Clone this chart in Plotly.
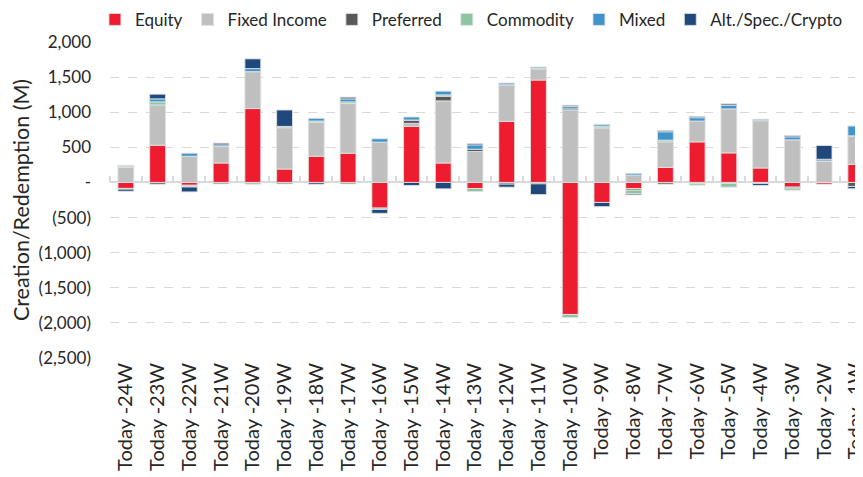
import plotly.graph_objects as go

categories = ["Today -24W", "Today -23W", "Today -22W", "Today -21W", "Today -20W", "Today -19W",
              "Today -18W", "Today -17W", "Today -16W", "Today -15W", "Today -14W", "Today -13W",
              "Today -12W", "Today -11W", "Today -10W", "Today -9W", "Today -8W", "Today -7W",
              "Today -6W", "Today -5W", "Today -4W", "Today -3W", "Today -2W", "Today -1W"]

equity = [-85, 530, -40, 277, 1052, 191, 373, 416, -365, 798, 277, -86, 870, 1458, -1880, -285, -86, 215, 578, 421, 206, -67, -24, 258]
fixed_income = [215, 574, 373, 234, 526, 588, 483, 707, 574, 43, 884, 440, 521, 158, 1028, 779, 105, 363, 296, 626, 674, 607, 306, 406]
preferred = [-10, -25, -10, -20, 0, -20, 0, -20, 0, 48, 67, 33, -24, -20, 19, 0, -24, -24, -14, -14, 0, -14, 0, -57]
commodity = [15, 43, -15, 0, -25, 19, 19, 24, -20, 0, 19, -43, 0, 14, -45, 24, -48, 24, -24, -53, -14, -29, 0, 0]
mixed = [12, 43, 43, 24, 43, 0, 38, 43, 48, 43, 53, 62, 24, 14, 33, 24, 24, 120, 48, 53, 19, 43, 24, 139]
alt = [-30, 67, -70, 24, 139, 234, -25, 24, -55, -43, -91, 19, -43, -153, 19, -60, -19, 19, 19, 19, -29, 19, 196, -33]

series = [
    ("Equity", equity, "#ED1C2E"),
    ("Fixed Income", fixed_income, "#BFBFBF"),
    ("Preferred", preferred, "#595959"),
    ("Commodity", commodity, "#8CC5A0"),
    ("Mixed", mixed, "#3E95CD"),
    ("Alt./Spec./Crypto", alt, "#1F497D"),
]

y_ticks = [2000, 1500, 1000, 500, 0, -500, -1000, -1500, -2000, -2500]
y_ticktext = ["2,000", "1,500", "1,000", "500", "-", "(500)", "(1,000)", "(1,500)", "(2,000)", "(2,500)"]

FONT = "Lato"
TXT = "#262626"
xpos = list(range(len(categories)))

fig = go.Figure()
for name, vals, color in series:
    fig.add_trace(go.Bar(
        x=xpos, y=vals, name=name,
        marker=dict(color=color, line=dict(color="rgba(225,225,225,0.9)", width=1)),
    ))

# helper invisible trace so the boundary-tick axis on the zero line is drawn
fig.add_trace(go.Scatter(x=[-0.5], y=[0], xaxis="x2", mode="markers",
                         marker=dict(opacity=0), showlegend=False, hoverinfo="skip"))

ymin, ymax = -2500, 2000
xr = [-0.5, 23.226]

# page body has an 8px default margin, so the figure is sized to fill the rest of the window
fig.update_layout(
    width=855, height=469,
    barmode="relative",
    bargap=0.5,
    plot_bgcolor="white", paper_bgcolor="white",
    margin=dict(l=102, r=0, t=34, b=119, autoexpand=False),
    font=dict(family=FONT, size=16, color=TXT),
    legend=dict(orientation="h", x=-0.020, xanchor="left",
                y=1.127, yanchor="top",
                font=dict(size=17, family=FONT, color=TXT),
                itemwidth=30, tracegroupgap=0, traceorder="normal",
                bgcolor="rgba(0,0,0,0)"),
    xaxis=dict(
        range=xr, tickmode="array", tickvals=xpos, ticktext=categories,
        tickangle=-90, showgrid=False, ticks="", showline=False, zeroline=False,
        automargin=False, ticklabeloverflow="allow",
        tickfont=dict(size=20, family=FONT, color=TXT),
    ),
    xaxis2=dict(
        range=xr, overlaying="x", anchor="free",
        position=(0 - ymin) / (ymax - ymin), side="top",
        tickmode="array", tickvals=[i - 0.5 for i in range(len(categories) + 1)],
        ticks="outside", ticklen=6, tickcolor="#d9d9d9", tickwidth=2,
        showticklabels=False, showgrid=False, showline=False, zeroline=False,
        automargin=False,
    ),
    yaxis=dict(
        range=[ymin, ymax], tickmode="array", tickvals=y_ticks, ticktext=y_ticktext,
        showgrid=True, gridcolor="#d9d9d9", griddash="dash", gridwidth=1,
        zeroline=True, zerolinecolor="#d9d9d9", zerolinewidth=2,
        ticks="", ticklabelstandoff=18, showline=False, automargin=False,
        tickfont=dict(size=17, family=FONT, color=TXT),
        title=dict(text="Creation/Redemption (M)", font=dict(size=21.5, family=FONT, color=TXT),
                   standoff=10),
    ),
)

fig.write_html("out.html")
